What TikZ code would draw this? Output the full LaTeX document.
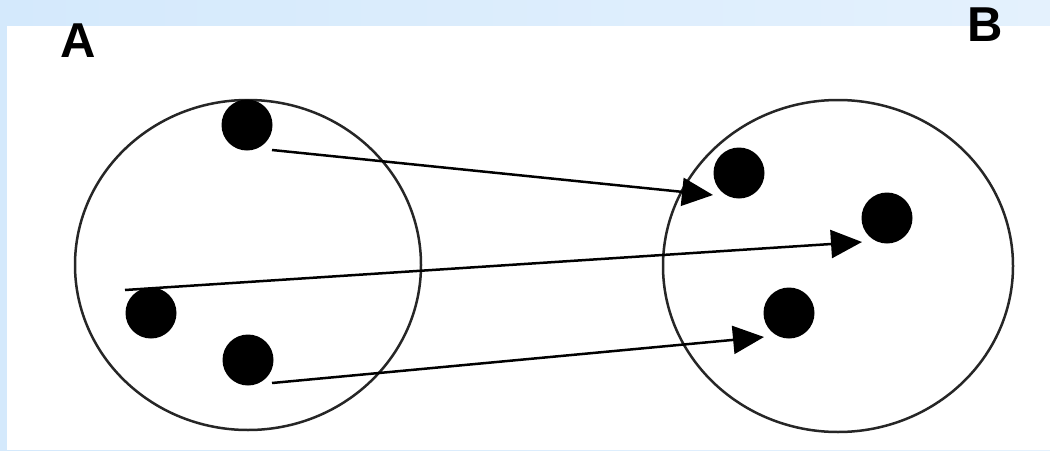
\documentclass[tikz,border=0pt]{standalone}
\usepackage{fontspec}
\setmainfont{Liberation Sans}
\usetikzlibrary{arrows.meta}
\definecolor{bgleft}{RGB}{212,233,252}
\definecolor{bgright}{RGB}{228,241,253}
\tikzset{
  dot/.style={circle,fill=black,inner sep=0pt,minimum size=51pt},
  setring/.style={draw=black!85,line width=2.5pt},
  maparrow/.style={line width=2.5pt,-{Triangle[length=31pt,width=28pt]}},
  setlabel/.style={font=\fontsize{49}{49}\selectfont\bfseries,inner sep=0pt}
}
\begin{document}
\begin{tikzpicture}[x=1pt,y=-1pt]
\useasboundingbox (0,0) rectangle (1050,450);
\shade[left color=bgleft,right color=bgright] (0,0) rectangle (1050,450);
\fill[white] (7,26) rectangle (1050,450);
% sets
\draw[setring] (248,265) ellipse [x radius=173, y radius=165];
\draw[setring] (838,266) ellipse [x radius=175, y radius=166];
% labels
\node[setlabel] (la) at (78,41) {A};
\node[setlabel] (lb) at (985,25) {B};
% elements
\node[dot] (a1) at (247,125) {};
\node[dot] (a2) at (151,313) {};
\node[dot] (a3) at (248,360) {};
\node[dot] (b1) at (739,173) {};
\node[dot] (b2) at (887,218) {};
\node[dot] (b3) at (789,313) {};
% arrow ends
\coordinate (s1) at (272,150);
\coordinate (t1) at (713,195);
\coordinate (s2) at (125,290);
\coordinate (t2) at (862,242);
\coordinate (s3) at (272,383);
\coordinate (t3) at (764,337);
\draw[maparrow] (s1) -- (t1);
\draw[maparrow] (s2) -- (t2);
\draw[maparrow] (s3) -- (t3);
\end{tikzpicture}
\end{document}
